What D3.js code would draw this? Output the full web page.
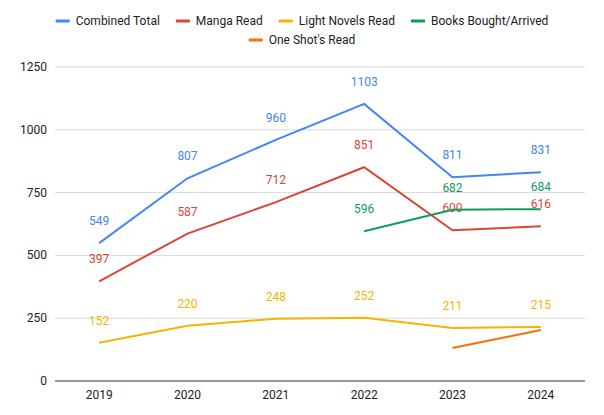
<!DOCTYPE html>
<html><head><meta charset="utf-8">
<script src="https://cdn.jsdelivr.net/npm/d3@7"></script>
<style>body{margin:0;background:#fff;font-family:Roboto,Arial,sans-serif}</style>
</head><body><svg id="c" width="604" height="415"></svg>
<script>
var years = ["2019", "2020", "2021", "2022", "2023", "2024"];
var combined = [549, 807, 960, 1103, 811, 831];
var manga = [397, 587, 712, 851, 600, 616];
var novels = [152, 220, 248, 252, 211, 215];
var books = [null, null, null, 596, 682, 684];
var oneShots = [null, null, null, null, 131, 203];
var yTicks = [0, 250, 500, 750, 1000, 1250];

var series = [
    {name: "Combined Total", values: combined, color: "#4285f4", labels: true},
    {name: "Manga Read", values: manga, color: "#db4437", labels: true},
    {name: "Light Novels Read", values: novels, color: "#f4b400", labels: true},
    {name: "Books Bought/Arrived", values: books, color: "#0f9d58", labels: true},
    {name: "One Shot's Read", values: oneShots, color: "#ff6d01", labels: false}
];

var svg = d3.select("#c");
var x = d3.scalePoint().domain(years).range([55, 585]).padding(0.5);
var y = d3.scaleLinear().domain([0, 1250]).range([381, 67]);

//gridlines
svg.append("g").selectAll("line").data(yTicks).enter().append("line")
    .attr("x1", 55).attr("x2", 585)
    .attr("y1", d => y(d)).attr("y2", d => y(d))
    .attr("stroke", d => d === 0 ? "#333" : "#d9d9d9");

svg.append("g").selectAll("text").data(yTicks).enter().append("text")
    .attr("x", 47).attr("y", d => y(d) + 4)
    .attr("text-anchor", "end").attr("font-size", 12).attr("fill", "#222")
    .text(d => d);

svg.append("g").selectAll("text").data(years).enter().append("text")
    .attr("x", d => x(d)).attr("y", 399)
    .attr("text-anchor", "middle").attr("font-size", 12).attr("fill", "#222")
    .text(d => d);

var line = d3.line()
    .defined(d => d.v !== null)
    .x(d => x(d.year)).y(d => y(d.v));

series.forEach(function(s) {
    var pts = years.map((yr, i) => ({year: yr, v: s.values[i]}));
    svg.append("path").datum(pts).attr("d", line)
        .attr("fill", "none").attr("stroke", s.color).attr("stroke-width", 2);
    if (s.labels) {
        svg.append("g").selectAll("text").data(pts.filter(p => p.v !== null)).enter().append("text")
            .attr("x", p => x(p.year)).attr("y", p => y(p.v) - 18)
            .attr("text-anchor", "middle").attr("font-size", 12).attr("fill", s.color)
            .text(p => p.v);
    }
});

//legend, two rows
var rows = [series.slice(0, 4), series.slice(4)];
rows.forEach(function(row, r) {
    var g = svg.append("g");
    var cx = 0;
    row.forEach(function(s) {
        g.append("line").attr("x1", cx).attr("x2", cx + 14).attr("y1", 0).attr("y2", 0)
            .attr("stroke", s.color).attr("stroke-width", 3);
        var t = g.append("text").attr("x", cx + 20).attr("y", 4)
            .attr("font-size", 12).attr("fill", "#222").text(s.name);
        cx += 20 + t.node().getComputedTextLength() + 16;
    });
    var w = cx - 16;
    g.attr("transform", "translate(" + ((604 - w) / 2) + "," + (21 + r * 19) + ")");
});
</script></body></html>
